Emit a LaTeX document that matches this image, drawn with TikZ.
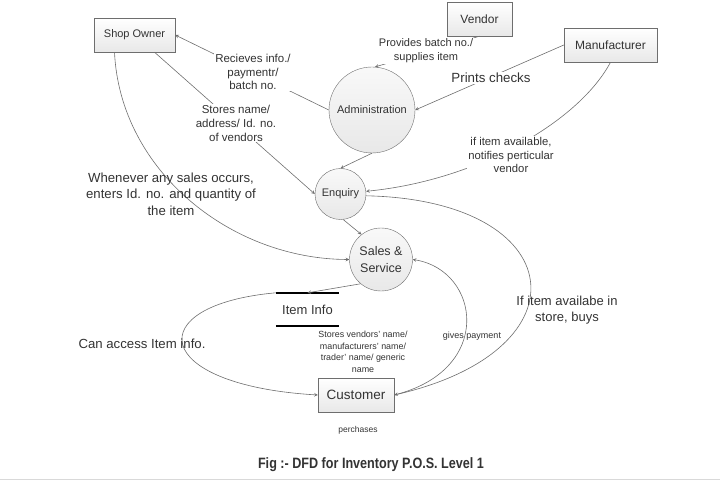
\documentclass[tikz,border=0pt]{standalone}
\usepackage{fontspec}
\setmainfont{Liberation Sans}
\newfontfamily\capfont[FakeStretch=0.84]{Liberation Sans}
\definecolor{linegray}{HTML}{6E6E6E}
\definecolor{textgray}{HTML}{333333}
\begin{document}
\begin{tikzpicture}[x=1pt,y=-1pt,>=stealth,
	flow/.style={->,color=linegray,line width=0.6pt},
	entity/.style={draw=linegray,top color=white,bottom color=gray!18,text=textgray,inner sep=0pt,minimum height=34pt},
	process/.style={circle,draw=linegray,top color=gray!5,bottom color=gray!18,text=textgray,inner sep=0pt,align=center},
	lbl/.style={text=textgray,align=center,inner sep=1pt}]
	\useasboundingbox (0,0) rectangle (720,481);
	\node[entity,minimum width=81pt,font=\fontsize{11}{13}\selectfont] (shop) at (134.5,35) {Shop Owner};
	\node[entity,minimum width=65pt,font=\fontsize{12}{14}\selectfont] (vendor) at (479.5,19) {Vendor};
	\node[entity,minimum width=93pt,font=\fontsize{12}{14}\selectfont] (manu) at (610.5,45) {Manufacturer};
	\node[process,minimum size=86pt,font=\fontsize{11}{13}\selectfont] (admin) at (372,110) {Administration};
	\node[process,minimum size=51pt,font=\fontsize{11}{13}\selectfont] (enquiry) at (340.5,194) {Enquiry};
	\node[process,minimum size=63pt,font=\fontsize{12.5}{17}\selectfont] (sales) at (381,259.5) {Sales \&\\Service};
	\node[minimum width=63pt,minimum height=33pt,inner sep=0pt,text=textgray,font=\fontsize{13}{15}\selectfont] (info) at (307.5,309.5) {Item Info};
	\draw[line width=1.8pt] (info.north west) -- (info.north east) (info.south west) -- (info.south east);
	\node[entity,minimum width=76pt,font=\fontsize{13.5}{15}\selectfont] (customer) at (356,395) {Customer};

	\draw[flow] (admin.west) -- (shop.east);
	\draw[flow] (vendor.south) -- (admin.86);
	\draw[flow] (manu.west) -- (admin.east);
	\draw[flow] ([xshift=20pt]shop.south) -- (enquiry.west);
	\draw[flow] (admin.south) -- (enquiry.north);
	\draw[flow] (manu.south) .. controls (580,120) and (480,180) .. (enquiry.6);
	\draw[flow] (enquiry.-84) -- (sales.128);
	\draw[flow] ([xshift=-20pt]shop.south) .. controls (120,170) and (230,259) .. (sales.west);
	\draw[flow] (sales.-130) -- (info.north);
	\draw[flow] (info.north west) .. controls (140,305) and (150,385) .. (customer.west);
	\draw[flow] (customer.east) .. controls (495,370) and (480,270) .. (sales.east);
	\draw[flow] (enquiry.-4) .. controls (570,200) and (590,350) .. (customer.east);

	\node[lbl,fill=white,font=\fontsize{11.5}{13.5}\selectfont] (l-recv) at (253,72) {Recieves info./\\paymentr/\\batch no.};
	\node[lbl,fill=white,font=\fontsize{11}{14}\selectfont] (l-prov) at (426,51) {Provides batch no./\\supplies item};
	\node[lbl,fill=white,font=\fontsize{13.3}{15}\selectfont] (l-print) at (491,78) {Prints checks};
	\node[lbl,fill=white,font=\fontsize{11.5}{14}\selectfont] (l-stores) at (236,123) {Stores name/\\address/ Id. no.\\of vendors};
	\node[lbl,fill=white,font=\fontsize{11.3}{13.5}\selectfont] (l-notify) at (511,155) {if item available,\\notifies perticular\\vendor};
	\node[lbl,font=\fontsize{13.2}{16.5}\selectfont] (l-sales) at (171,194) {Whenever any sales occurs,\\enters Id. no. and quantity of\\the item};
	\node[lbl,font=\fontsize{13.2}{15}\selectfont] (l-access) at (142,344) {Can access Item info.};
	\node[lbl,font=\fontsize{9}{10}\selectfont] (l-pay) at (472,336) {gives payment};
	\node[lbl,font=\fontsize{13}{16}\selectfont] (l-buys) at (567,310) {If item availabe in\\store, buys};
	\node[lbl,font=\fontsize{8.9}{11.5}\selectfont] (l-names) at (363,352) {Stores vendors' name/\\manufacturers' name/\\trader' name/ generic\\name};
	\node[lbl,font=\fontsize{8.5}{10}\selectfont] (l-purch) at (358,430) {perchases};
	\node[text=textgray,font=\capfont\bfseries\fontsize{15}{18}\selectfont] (caption) at (371,465) {Fig :- DFD for Inventory P.O.S. Level 1};
	\draw[gray!30] (0,479.5) -- (720,479.5);
\end{tikzpicture}
\end{document}
